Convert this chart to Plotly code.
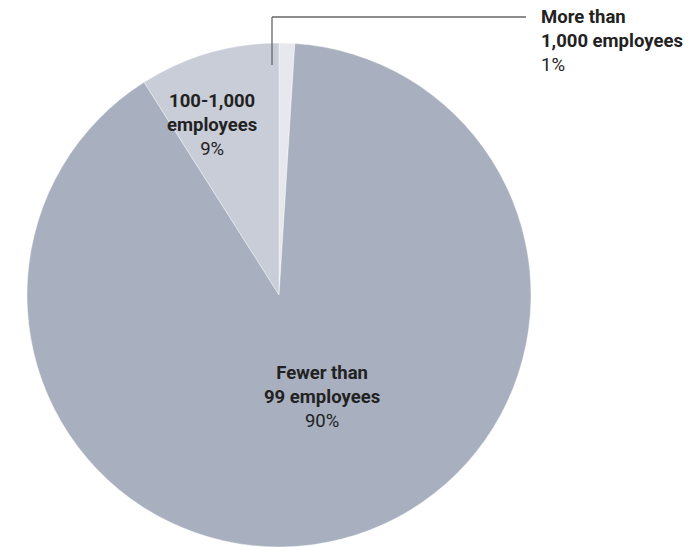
import plotly.graph_objects as go

categories = ["More than<br>1,000 employees", "100-1,000<br>employees", "Fewer than<br>99 employees"]
shares = [1, 9, 90]
colors = ["#e7e8ee", "#c9cdd8", "#a8b0bf"]

W, H = 690, 547
FONT = "Roboto"
FS = 18.5

fig = go.Figure(go.Pie(
    labels=categories,
    values=shares,
    sort=False,
    direction="counterclockwise",
    rotation=0,
    textinfo="none",
    hoverinfo="label+percent",
    marker=dict(colors=colors, line=dict(color="white", width=0.4)),
    domain=dict(x=[27 / W, 531 / W], y=[0, (H - 43) / H]),
    showlegend=False,
))

def px(x):
    return x / W

def py(y):
    return 1 - y / H

def label(cat, val, x, y, align):
    return dict(
        text=f"<b>{cat}</b><br>{val}%",
        x=px(x), y=py(y), xref="paper", yref="paper",
        xanchor="center" if align == "center" else "left",
        yanchor="top", align=align, showarrow=False,
        font=dict(family=FONT, size=FS, color="#222222"),
    )

annotations = [
    label(categories[0], shares[0], 539, 4, "left"),
    label(categories[1], shares[1], 212, 88, "center"),
    label(categories[2], shares[2], 322, 360, "center"),
]

fig.add_shape(type="line", xref="paper", yref="paper",
              x0=px(272), x1=px(272), y0=py(65), y1=py(17),
              line=dict(color="#666666", width=1.3))
fig.add_shape(type="line", xref="paper", yref="paper",
              x0=px(272), x1=px(526), y0=py(17), y1=py(17),
              line=dict(color="#666666", width=1.3))

fig.update_layout(
    width=W, height=H,
    margin=dict(l=0, r=0, t=0, b=0),
    paper_bgcolor="white", plot_bgcolor="white",
    annotations=annotations,
)
fig.write_html("out.html", config={"displayModeBar": False},
               post_script="document.body.style.margin='0';")
